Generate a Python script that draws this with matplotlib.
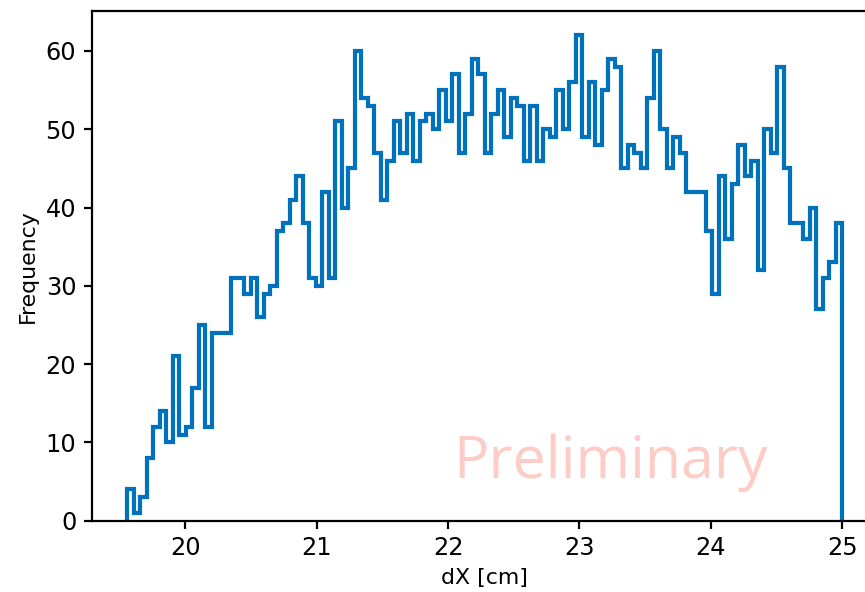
#Importamos librerias
import numpy as np
import matplotlib
matplotlib.use('Agg')
import matplotlib.pyplot as plt

#Conteos por bin del histograma de dX
conteos = [4, 1, 3, 8, 12, 14, 10, 21, 11, 12, 17, 25, 12, 24, 24, 24, 31, 31, 29, 31, 26,
           29, 30, 37, 38, 41, 44, 38, 31, 30, 42, 31, 51, 40, 45, 60, 54, 53, 47, 41, 46, 51, 47,
           52, 46, 51, 52, 50, 55, 51, 57, 47, 52, 59, 57, 47, 52, 55, 49, 54, 53, 46, 53, 46,
           50, 49, 55, 50, 56, 62, 49, 56, 48, 55, 59, 58, 45, 48, 47, 45, 54, 60, 50, 45, 49,
           47, 42, 42, 42, 37, 29, 44, 36, 43, 48, 44, 46, 32, 50, 47, 58, 45, 38, 38, 36, 40, 27, 31, 33, 38]
dx_min = 19.56
dx_max = 25.0
n_bins = len(conteos)

bordes = np.linspace(dx_min, dx_max, n_bins + 1)
centros = 0.5 * (bordes[:-1] + bordes[1:])

plt.rcParams['font.size'] = 12
plt.rcParams['axes.linewidth'] = 1.1
plt.rcParams['xtick.major.width'] = 1.1
plt.rcParams['ytick.major.width'] = 1.1
plt.rcParams['xtick.major.size'] = 4.2
plt.rcParams['ytick.major.size'] = 4.2

fig = plt.figure(figsize=(865 / 144, 592 / 144), dpi=144)
ax = fig.add_axes([0.106, 0.1204, 0.909, 0.861])

#Histograma en escalones
ax.hist(centros, bins=bordes, weights=conteos, histtype='step', color='#0072bd', linewidth=2.1)

ax.set_ylim(0, max(conteos) * 1.05)
ax.set_xlabel("dX [cm]", fontsize=11)
ax.set_ylabel("Frequency", fontsize=11)

#Marca de agua
ax.text(22.04, 5.4, "Preliminary", fontsize=29.5, family='Open Sans',
        color='salmon', alpha=0.4, ha='left', va='baseline')

plt.savefig('out.png', dpi=144)
